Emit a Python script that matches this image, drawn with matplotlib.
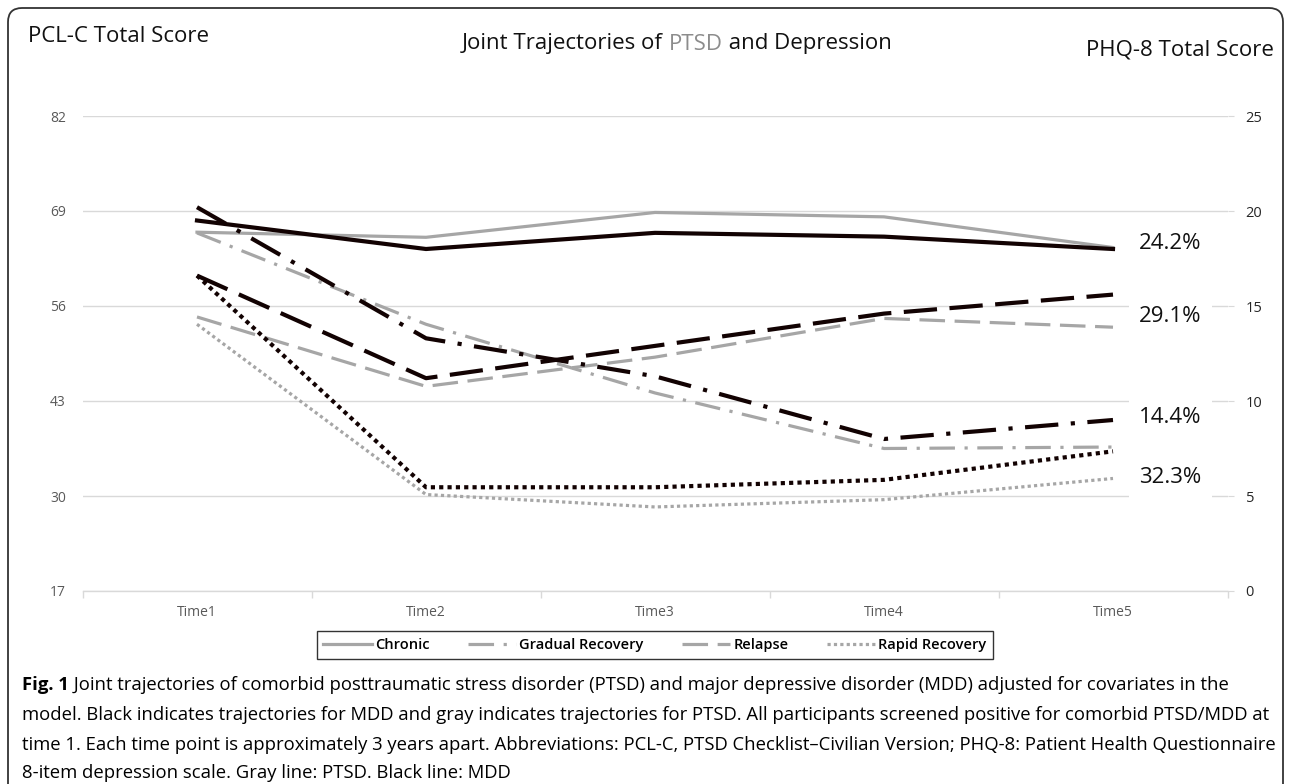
import matplotlib
matplotlib.use('Agg')
import matplotlib.pyplot as plt
from matplotlib.patches import FancyBboxPatch
from matplotlib.lines import Line2D
from matplotlib.transforms import IdentityTransform

# ---------------- data ----------------
times = ['Time1', 'Time2', 'Time3', 'Time4', 'Time5']
groups = ['Chronic', 'Gradual Recovery', 'Relapse', 'Rapid Recovery']

# PTSD (PCL-C, left axis) - gray lines
ptsd_chronic = [66.1, 65.4, 68.8, 68.2, 64.0]
ptsd_gradual = [66.0, 53.5, 44.1, 36.5, 36.7]
ptsd_relapse = [54.5, 45.0, 49.0, 54.3, 53.1]
ptsd_rapid = [53.5, 30.2, 28.5, 29.5, 32.4]

# MDD (PHQ-8, right axis) - black lines
mdd_chronic = [19.5, 18.0, 18.85, 18.65, 18.0]
mdd_gradual = [20.2, 13.3, 11.3, 8.0, 9.0]
mdd_relapse = [16.6, 11.2, 12.9, 14.6, 15.6]
mdd_rapid = [16.6, 5.46, 5.46, 5.85, 7.35]

pct_labels = ['24.2%', '29.1%', '14.4%', '32.3%']
pct_pos = [18.3, 14.45, 9.15, 5.95]

left_ticks = [17, 30, 43, 56, 69, 82]
right_ticks = [0, 5, 10, 15, 20, 25]

caption_bold = 'Fig. 1'
caption_lines = [
    ' Joint trajectories of comorbid posttraumatic stress disorder (PTSD) and major depressive disorder (MDD) adjusted for covariates in the',
    'model. Black indicates trajectories for MDD and gray indicates trajectories for PTSD. All participants screened positive for comorbid PTSD/MDD at',
    'time 1. Each time point is approximately 3 years apart. Abbreviations: PCL-C, PTSD Checklist\u2013Civilian Version; PHQ-8: Patient Health Questionnaire',
    '8-item depression scale. Gray line: PTSD. Black line: MDD',
]

# ---------------- styles ----------------
W, H = 1290, 784
GRAY = '#A6A6A6'
BLACK = '#120202'
GRID = '#D9D9D9'
TICKC = '#595959'
FONT = ['Open Sans', 'DejaVu Sans']
styles = {
    'Chronic': '-',
    'Gradual Recovery': (0, (8, 3, 1, 3)),
    'Relapse': (0, (8, 3)),
    'Rapid Recovery': (0, (1, 1)),
}

plt.rcParams['font.family'] = FONT

fig = plt.figure(figsize=(W / 100, H / 100), dpi=100)
x0, x1, ytop, ybot = 82.5, 1227.5, 116, 591
ax = fig.add_axes([x0 / W, 1 - ybot / H, (x1 - x0) / W, (ybot - ytop) / H])
ax2 = ax.twinx()

xs = list(range(len(times)))
ax.set_xlim(-0.5, len(times) - 0.5)
ax.set_ylim(17, 82)
ax2.set_ylim(0, 25)

ptsd = [ptsd_chronic, ptsd_gradual, ptsd_relapse, ptsd_rapid]
mdd = [mdd_chronic, mdd_gradual, mdd_relapse, mdd_rapid]
for g, vals in zip(groups, ptsd):
    ax.plot(xs, vals, color=GRAY, lw=2.3, linestyle=styles[g],
            solid_joinstyle='round', zorder=3)
for g, vals in zip(groups, mdd):
    ax2.plot(xs, vals, color=BLACK, lw=3.0, linestyle=styles[g],
             solid_joinstyle='round', zorder=3)

# axes cosmetics
ax.set_yticks(left_ticks)
ax.set_yticklabels([str(t) for t in left_ticks])
ax.yaxis.grid(True, color=GRID, lw=1.0)
ax.set_axisbelow(True)
ax.tick_params(axis='y', length=0, pad=12, labelsize=10, labelcolor=TICKC)
ax.set_xticks(xs)
ax.set_xticklabels(times)
ax.set_xticks([i - 0.5 for i in range(len(times) + 1)], minor=True)
ax.tick_params(axis='x', which='major', length=0, pad=10, labelsize=10,
               labelcolor=TICKC)
ax.tick_params(axis='x', which='minor', length=5, color=GRID, width=1)
for s in ['left', 'right', 'top']:
    ax.spines[s].set_visible(False)
ax.spines['bottom'].set_color(GRID)
ax.spines['bottom'].set_linewidth(1.0)

ax2.set_yticks(right_ticks)
ax2.set_yticklabels([str(t) for t in right_ticks])
ax2.tick_params(axis='y', length=4, color=GRID, pad=9, labelsize=10.5,
                labelcolor='#262626')
for s in ['left', 'right', 'top', 'bottom']:
    ax2.spines[s].set_visible(False)

for lab, yv in zip(pct_labels, pct_pos):
    ax2.text(4.115, yv, lab, ha='left', va='center', fontsize=16,
             color='#111111', zorder=5,
             bbox=dict(boxstyle='square,pad=0.45', fc='white', ec='none'))

# headers
fig.text(28 / W, 1 - 37 / H, 'PCL-C Total Score', fontsize=16, ha='left',
         va='center', color='#111111')
fig.text(1274 / W, 1 - 50 / H, 'PHQ-8 Total Score', fontsize=16, ha='right',
         va='center', color='#111111')

fig.canvas.draw()
renderer = fig.canvas.get_renderer()
xcur = 462
for part, col in [('Joint Trajectories of ', '#111111'), ('PTSD', '#8C8C8C'),
                  (' and Depression', '#111111')]:
    t = fig.text(xcur / W, 1 - 44 / H, part, fontsize=16, ha='left',
                 va='center', color=col)
    bb = t.get_window_extent(renderer)
    xcur += bb.width

# legend
handles = [Line2D([0], [0], color=GRAY, lw=2.3, linestyle=styles[g]) for g in groups]
leg = fig.legend(handles, groups, loc='center', bbox_to_anchor=(655 / W, 1 - 645 / H),
                 ncol=4, frameon=True, fancybox=False, edgecolor='black',
                 handlelength=3.3, handletextpad=0.25, columnspacing=2.6,
                 fontsize=10.5, borderpad=0.45, borderaxespad=0)
leg.get_frame().set_linewidth(1.0)
for t in leg.get_texts():
    t.set_fontweight('semibold')

# caption: size chosen so the widest line ends near the right margin
cap_y = [685, 715, 745, 773]
probe = fig.text(0, 0, caption_lines[1], fontsize=13.5)
wprobe = probe.get_window_extent(renderer).width
probe.remove()
cap_fs = 13.5 * (1268 - 22) / wprobe

tb = fig.text(22 / W, 1 - cap_y[0] / H, caption_bold, fontsize=cap_fs,
              fontweight='bold', ha='left', va='center')
bbw = tb.get_window_extent(renderer).width
fig.text((22 + bbw) / W, 1 - cap_y[0] / H, caption_lines[0], fontsize=cap_fs,
         ha='left', va='center')
for line, yy in zip(caption_lines[1:], cap_y[1:]):
    fig.text(22 / W, 1 - yy / H, line, fontsize=cap_fs, ha='left', va='center')

# outer rounded frame
frame = FancyBboxPatch((8, -30), 1275, 806, boxstyle='round,pad=0,rounding_size=14',
                       transform=IdentityTransform(), fc='none', ec='#333333', lw=1.3)
fig.patches.append(frame)

fig.savefig('out.png', dpi=100)
